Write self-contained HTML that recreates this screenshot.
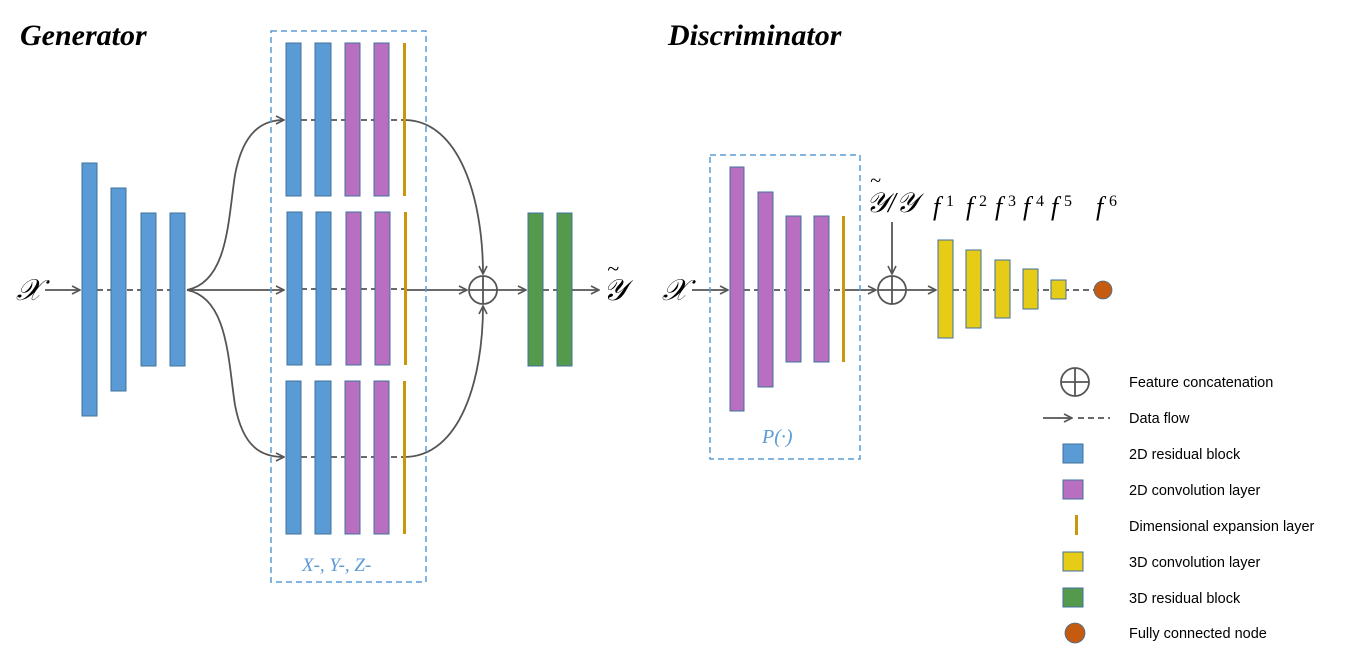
<!DOCTYPE html>
<html><head><meta charset="utf-8"><style>
html,body{margin:0;padding:0;background:#fff;}
svg{display:block;}
.t{font-family:"Liberation Serif",serif;font-style:italic;font-weight:bold;font-size:30px;fill:#000;}
.m{font-family:"Liberation Serif",serif;font-style:italic;fill:#000;}
.lg{font-family:"Liberation Sans",sans-serif;font-size:14.5px;fill:#000;}
</style></head><body>
<svg width="1357" height="655" viewBox="0 0 1357 655" xmlns="http://www.w3.org/2000/svg">
<defs>
<marker id="a" markerWidth="10" markerHeight="10" refX="9" refY="5" orient="auto" markerUnits="userSpaceOnUse">
<path d="M1,1 L9,5 L1,9" fill="none" stroke="#555" stroke-width="1.6"/></marker>
</defs>
<g fill="none" stroke="#555" stroke-width="1.8">
<line x1="45" y1="290" x2="80" y2="290" marker-end="url(#a)"/>
<line x1="97" y1="290" x2="170" y2="290" stroke-dasharray="6,4"/>
<path d="M187,290 C228,282 228,220 235,175 C243,132 262,120 284,120" marker-end="url(#a)"/>
<line x1="187" y1="290" x2="284" y2="290" marker-end="url(#a)"/>
<path d="M187,290 C228,298 228,360 235,405 C243,448 262,457 284,457" marker-end="url(#a)"/>
<line x1="301" y1="120" x2="404" y2="120" stroke-dasharray="6,4"/>
<line x1="301" y1="289" x2="404" y2="289" stroke-dasharray="6,4"/>
<line x1="301" y1="457" x2="404" y2="457" stroke-dasharray="6,4"/>
<path d="M404,120 C460,120 483,200 483,274" marker-end="url(#a)"/>
<line x1="404" y1="290" x2="467" y2="290" marker-end="url(#a)"/>
<path d="M404,457 C460,457 483,380 483,306" marker-end="url(#a)"/>
<circle cx="483" cy="290" r="14"/>
<line x1="469" y1="290" x2="497" y2="290"/><line x1="483" y1="276" x2="483" y2="304"/>
<line x1="497" y1="290" x2="526" y2="290" marker-end="url(#a)"/>
<line x1="543" y1="290" x2="557" y2="290" stroke-dasharray="6,4"/>
<line x1="572" y1="290" x2="599" y2="290" marker-end="url(#a)"/>
<line x1="692" y1="290" x2="728" y2="290" marker-end="url(#a)"/>
<line x1="744" y1="290" x2="845" y2="290" stroke-dasharray="6,4"/>
<line x1="845" y1="290" x2="876" y2="290" marker-end="url(#a)"/>
<line x1="892" y1="222" x2="892" y2="274" marker-end="url(#a)"/>
<circle cx="892" cy="290" r="14"/>
<line x1="878" y1="290" x2="906" y2="290"/><line x1="892" y1="276" x2="892" y2="304"/>
<line x1="906" y1="290" x2="936" y2="290" marker-end="url(#a)"/>
<line x1="953" y1="290" x2="1094" y2="290" stroke-dasharray="6,4"/>
<circle cx="1075" cy="382" r="14"/>
<line x1="1061" y1="382" x2="1089" y2="382"/><line x1="1075" y1="368" x2="1075" y2="396"/>
<line x1="1043" y1="418" x2="1072" y2="418" marker-end="url(#a)"/>
<line x1="1078" y1="418" x2="1110" y2="418" stroke-dasharray="6,4"/>
</g>
<rect x="271" y="31" width="155" height="551" fill="none" stroke="#5b9bd5" stroke-width="1.5" stroke-dasharray="6,4"/>
<rect x="710" y="155" width="150" height="304" fill="none" stroke="#5b9bd5" stroke-width="1.5" stroke-dasharray="6,4"/>
<g fill="#5b9bd5" stroke="#41719c" stroke-width="1">
<rect x="82" y="163" width="15" height="253"/><rect x="111" y="188" width="15" height="203"/>
<rect x="141" y="213" width="15" height="153"/><rect x="170" y="213" width="15" height="153"/>
<rect x="286" y="43" width="15" height="153"/><rect x="315" y="43" width="16" height="153"/>
<rect x="287" y="212" width="15" height="153"/><rect x="316" y="212" width="15" height="153"/>
<rect x="286" y="381" width="15" height="153"/><rect x="315" y="381" width="16" height="153"/>
<rect x="1063" y="444" width="20" height="19"/>
</g>
<g fill="#b86fbf" stroke="#41719c" stroke-width="1">
<rect x="345" y="43" width="15" height="153"/><rect x="374" y="43" width="15" height="153"/>
<rect x="346" y="212" width="15" height="153"/><rect x="375" y="212" width="15" height="153"/>
<rect x="345" y="381" width="15" height="153"/><rect x="374" y="381" width="15" height="153"/>
<rect x="730" y="167" width="14" height="244"/><rect x="758" y="192" width="15" height="195"/>
<rect x="786" y="216" width="15" height="146"/><rect x="814" y="216" width="15" height="146"/>
<rect x="1063" y="480" width="20" height="19"/>
</g>
<g fill="#c9960c">
<rect x="403" y="43" width="3" height="153"/><rect x="404" y="212" width="3" height="153"/>
<rect x="403" y="381" width="3" height="153"/><rect x="842" y="216" width="3" height="146"/>
<rect x="1075" y="515" width="3" height="20"/>
</g>
<g fill="#559a4c" stroke="#41719c" stroke-width="1">
<rect x="528" y="213" width="15" height="153"/><rect x="557" y="213" width="15" height="153"/>
<rect x="1063" y="588" width="20" height="19"/>
</g>
<g fill="#e6cc17" stroke="#41719c" stroke-width="1">
<rect x="938" y="240" width="15" height="98"/><rect x="966" y="250" width="15" height="78"/>
<rect x="995" y="260" width="15" height="58"/><rect x="1023" y="269" width="15" height="40"/>
<rect x="1051" y="280" width="15" height="19"/>
<rect x="1063" y="552" width="20" height="19"/>
</g>
<circle cx="1103" cy="290" r="9" fill="#c55a11" stroke="#41719c" stroke-width="0.8"/>
<circle cx="1075" cy="633" r="10" fill="#c55a11" stroke="#41719c" stroke-width="0.8"/>
<text class="t" x="20" y="45">Generator</text>
<text class="t" x="668" y="45">Discriminator</text>
<text class="m" x="16" y="300" font-size="30">𝒳</text>
<text class="m" x="662" y="300" font-size="30">𝒳</text>
<text class="m" x="603" y="300" font-size="30">𝒴</text>
<text class="m" x="607" y="276" font-size="22" font-style="normal">~</text>
<text class="m" x="302" y="571" font-size="19" style="fill:#5b9bd5">X-, Y-, Z-</text>
<text class="m" x="762" y="443" font-size="20" style="fill:#5b9bd5">P(·)</text>
<text class="m" x="866" y="212" font-size="28">𝒴/𝒴</text>
<text class="m" x="870" y="187" font-size="20" font-style="normal">~</text>
<text class="m" x="933" y="215" font-size="26">f</text><text x="946" y="206" font-size="16" font-family="Liberation Serif,serif">1</text>
<text class="m" x="966" y="215" font-size="26">f</text><text x="979" y="206" font-size="16" font-family="Liberation Serif,serif">2</text>
<text class="m" x="995" y="215" font-size="26">f</text><text x="1008" y="206" font-size="16" font-family="Liberation Serif,serif">3</text>
<text class="m" x="1023" y="215" font-size="26">f</text><text x="1036" y="206" font-size="16" font-family="Liberation Serif,serif">4</text>
<text class="m" x="1051" y="215" font-size="26">f</text><text x="1064" y="206" font-size="16" font-family="Liberation Serif,serif">5</text>
<text class="m" x="1096" y="215" font-size="26">f</text><text x="1109" y="206" font-size="16" font-family="Liberation Serif,serif">6</text>
<g class="lg">
<text x="1129" y="387">Feature concatenation</text>
<text x="1129" y="423">Data flow</text>
<text x="1129" y="459">2D residual block</text>
<text x="1129" y="495">2D convolution layer</text>
<text x="1129" y="531">Dimensional expansion layer</text>
<text x="1129" y="567">3D convolution layer</text>
<text x="1129" y="603">3D residual block</text>
<text x="1129" y="638">Fully connected node</text>
</g>
</svg>
</body></html>
